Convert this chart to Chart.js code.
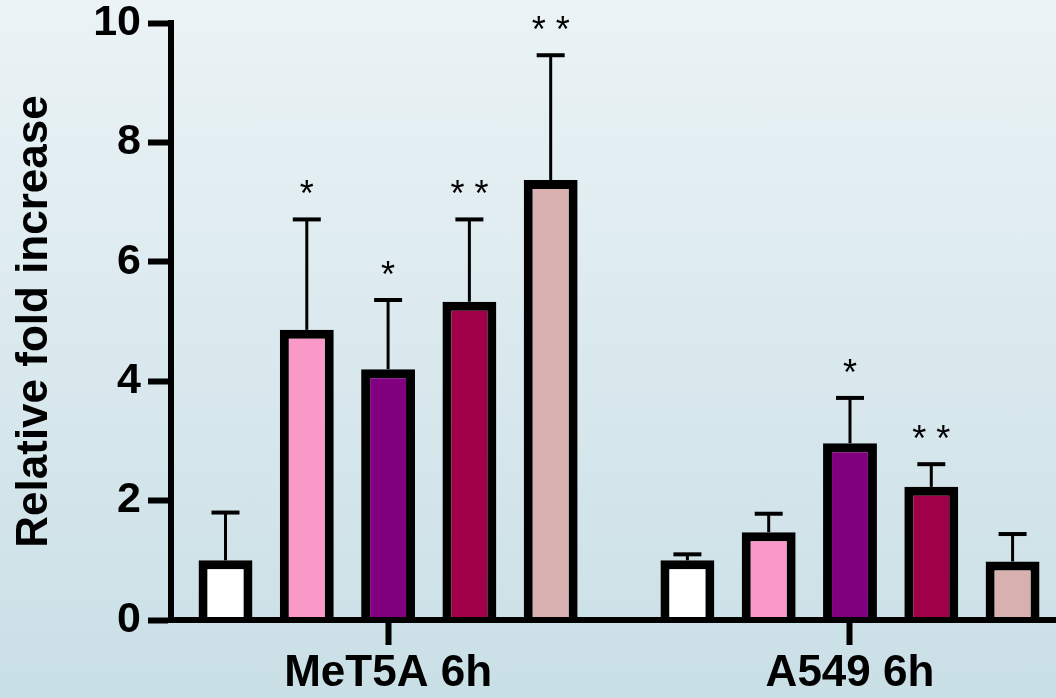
<!DOCTYPE html>
<html>
<head>
<meta charset="utf-8">
<script src="https://cdn.jsdelivr.net/npm/chart.js@4/dist/chart.umd.min.js"></script>
<style>
  html, body { margin: 0; padding: 0; overflow: hidden; }
  body {
    width: 1056px; height: 698px;
    background: linear-gradient(to bottom, #ebf3f6, #c9dfe6);
  }
  canvas { display: block; }
</style>
</head>
<body>
<canvas id="chart" width="1056" height="698"></canvas>
<script>
// ---- data ----
const groups = ["MeT5A 6h", "A549 6h"];
const barColors = ["#ffffff", "#fa98c8", "#800080", "#a00048", "#d8b0b0"];

const met5aMeans = [1.0, 4.86, 4.2, 5.33, 7.37];
const met5aErrTop = [1.8, 6.71, 5.36, 6.71, 9.46];
const met5aStars = ["", "*", "*", "* *", "* *"];

const a549Means = [1.0, 1.47, 2.96, 2.23, 0.98];
const a549ErrTop = [1.1, 1.78, 3.72, 2.61, 1.44];
const a549Stars = ["", "", "*", "* *", ""];

const yTicks = [0, 2, 4, 6, 8, 10];

const FONT = "'Liberation Sans', Arial, sans-serif";

// one dataset per condition, one bar per cell line
const datasets = barColors.map((color, i) => ({
  data: [{ x: 0, y: met5aMeans[i] }, { x: 1, y: a549Means[i] }],
  errTop: [met5aErrTop[i], a549ErrTop[i]],
  stars: [met5aStars[i], a549Stars[i]],
  backgroundColor: color,
  borderColor: "#000",
  borderWidth: 9,
  categoryPercentage: 0.88,
  barPercentage: 0.663
}));

/* =============================
   ERROR BARS + ASTERISKS
============================= */
const errorBars = {
  id: "errorBars",
  afterDatasetsDraw(chart) {
    const c = chart.ctx;
    const y = chart.scales.y;
    c.save();
    c.strokeStyle = "#000";
    chart.data.datasets.forEach((ds, di) => {
      const meta = chart.getDatasetMeta(di);
      meta.data.forEach((bar, i) => {
        const top = y.getPixelForValue(ds.errTop[i]);
        c.lineWidth = 3;
        c.beginPath();
        c.moveTo(bar.x, bar.y);
        c.lineTo(bar.x, top);
        c.stroke();
        c.lineWidth = 4;
        c.beginPath();
        c.moveTo(bar.x - 14, top);
        c.lineTo(bar.x + 14, top);
        c.stroke();
        if (ds.stars[i]) {
          c.fillStyle = "#000";
          c.font = "36px " + FONT;
          c.textAlign = "center";
          c.textBaseline = "middle";
          c.fillText(ds.stars[i], bar.x, top - 23);
        }
      });
    });
    c.restore();
  }
};

new Chart(document.getElementById("chart"), {
  type: "bar",
  data: { datasets },
  plugins: [errorBars],
  options: {
    responsive: false,
    animation: false,
    layout: { padding: { top: 23, right: 0, left: 0, bottom: 0 } },
    plugins: { legend: { display: false }, tooltip: { enabled: false } },
    scales: {
      x: {
        type: "linear",
        offset: false,
        min: -0.47,
        max: 1.446,
        afterBuildTicks: s => { s.ticks = groups.map((g, i) => ({ value: i })); },
        afterFit: s => { s.height = 78; s.paddingLeft = 0; s.paddingRight = 0; },
        ticks: {
          callback: v => groups[v],
          color: "#000",
          font: { family: FONT, size: 44, weight: "bold" },
          padding: 2,
          maxRotation: 0,
          autoSkip: false
        },
        grid: {
          offset: false,
          drawOnChartArea: false,
          tickLength: 25,
          tickWidth: 6,
          tickColor: "#000",
          z: 1
        },
        border: { color: "#000", width: 6, z: 1 }
      },
      y: {
        min: 0,
        max: 10,
        afterBuildTicks: s => { s.ticks = yTicks.map(v => ({ value: v })); },
        afterFit: s => { s.width = 171; s.paddingTop = 0; s.paddingBottom = 0; },
        ticks: {
          color: "#000",
          font: { family: FONT, size: 43, weight: "bold" },
          padding: 7
        },
        grid: {
          drawOnChartArea: false,
          tickLength: 23,
          tickWidth: 6,
          tickColor: "#000"
        },
        border: { color: "#000", width: 6 },
        title: {
          display: true,
          text: "Relative fold increase",
          color: "#000",
          font: { family: FONT, size: 44, weight: "bold" },
          padding: { top: 8, bottom: 0 }
        }
      }
    }
  }
});
</script>
</body>
</html>
